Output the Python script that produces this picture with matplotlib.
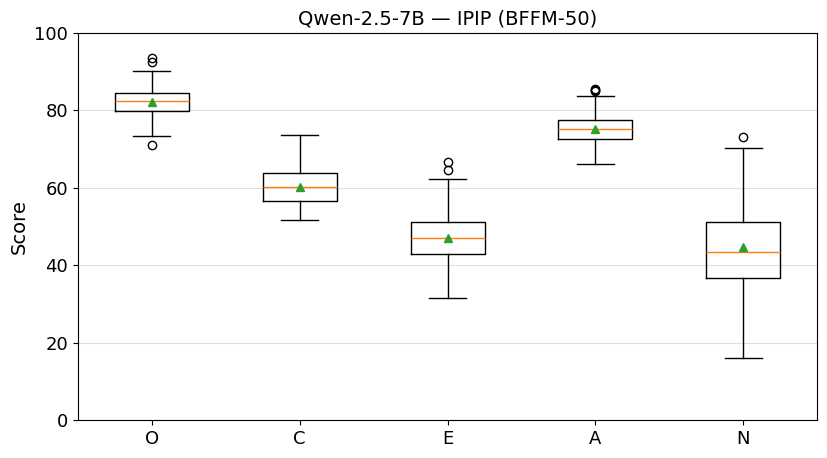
import numpy as np
import matplotlib
matplotlib.use("Agg")
import matplotlib.pyplot as plt

# traits and box statistics
traits = ["O", "C", "E", "A", "N"]
medians = [82.3, 60.2, 46.9, 75.1, 43.3]
means = [82.2, 60.3, 47.0, 75.2, 44.7]
q1 = [79.8, 56.5, 42.9, 72.5, 36.7]
q3 = [84.5, 63.8, 51.2, 77.4, 51.1]
whis_lo = [73.4, 51.7, 31.5, 66.2, 16.0]
whis_hi = [90.1, 73.6, 62.2, 83.8, 70.3]
fliers = [[93.5, 92.6, 71.0], [], [66.7, 64.7], [85.6, 85.2, 84.9], [73.1]]

stats = []
for i, t in enumerate(traits):
    stats.append({
        "label": t, "med": medians[i], "mean": means[i],
        "q1": q1[i], "q3": q3[i],
        "whislo": whis_lo[i], "whishi": whis_hi[i],
        "fliers": fliers[i],
    })

fig, ax = plt.subplots(figsize=(8.28, 4.58), dpi=100)
ax.bxp(stats, showmeans=True)
ax.set_ylim(0, 100)
ax.set_title("Qwen-2.5-7B — IPIP (BFFM-50)", fontsize=14)
ax.set_ylabel("Score", fontsize=14)
ax.tick_params(labelsize=13)
ax.yaxis.grid(True, color="#e0e0e0", linewidth=0.8)
ax.set_axisbelow(True)
fig.subplots_adjust(left=0.094, right=0.987, top=0.928, bottom=0.083)
fig.savefig("out.png")
